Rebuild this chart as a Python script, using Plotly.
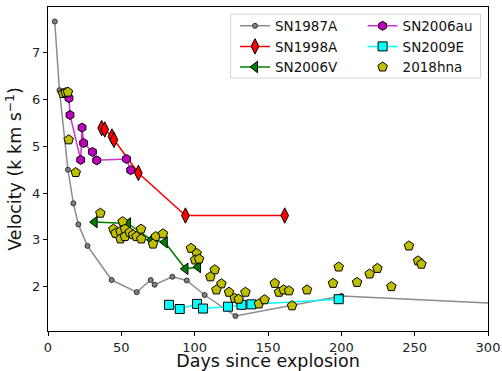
import plotly.graph_objects as go

# ---- data (days since explosion, velocity in 10^3 km/s) ----
sn1987a_t = [4.6, 7.8, 13.6, 17.3, 20.7, 26.9, 43.4, 60.5, 70.0, 72.7, 84.8, 94.6, 106.8, 127.8, 200.0, 400.0]
sn1987a_v = [7.67, 6.20, 4.50, 3.78, 3.33, 2.87, 2.14, 1.88, 2.14, 2.04, 2.21, 2.13, 1.82, 1.37, 1.80, 1.50]

sn1998a_t = [36.6, 38.7, 43.6, 45.0, 61.6, 93.7, 161.4]
sn1998a_v = [5.39, 5.36, 5.21, 5.14, 4.43, 3.52, 3.52]

sn2006v_t = [31.8, 54.5, 70.5, 79.6, 93.7, 102.3]
sn2006v_v = [3.38, 3.35, 3.00, 2.95, 2.38, 2.42]

sn2006au_t = [14.3, 15.0, 22.3, 23.2, 24.3, 30.3, 33.2, 53.5, 56.4]
sn2006au_v = [6.03, 5.67, 4.71, 5.40, 5.07, 4.88, 4.70, 4.73, 4.49]

sn2009e_t = [82.5, 89.8, 101.6, 105.7, 122.7, 131.9, 138.7, 198.2]
sn2009e_v = [1.61, 1.52, 1.63, 1.53, 1.57, 1.61, 1.62, 1.73]

sn2018hna_t = [10.2, 12.0, 13.6, 14.1, 18.9, 35.7, 44.6, 46.0, 49.4, 50.9, 52.5, 49.4, 52.5,
               55.7, 58.0, 60.3, 63.4, 63.6, 73.4, 78.4, 71.6, 97.5, 101.4, 100.3, 103.0,
               113.7, 110.7, 118.2, 114.8, 123.4, 134.6, 127.3, 130.0, 143.8, 147.7, 154.6,
               157.5, 160.7, 164.3, 166.4, 176.6, 194.3, 198.2, 210.7, 219.3, 224.6, 234.1,
               246.1, 252.3, 254.6]
sn2018hna_v = [6.13, 6.15, 6.16, 5.14, 4.44, 3.57, 3.23, 3.14, 3.18, 3.39, 3.23, 3.02, 3.07,
               3.16, 3.11, 3.07, 3.23, 3.02, 3.07, 3.13, 2.91, 2.82, 2.71, 2.57, 2.59,
               2.36, 2.21, 2.06, 1.93, 1.88, 1.88, 1.75, 1.73, 1.63, 1.72, 2.07,
               1.88, 1.93, 1.91, 1.59, 1.93, 2.07, 2.42, 2.09, 2.27, 2.39, 2.00,
               2.87, 2.55, 2.48]

x_ticks = [0, 50, 100, 150, 200, 250, 300]
y_ticks = [2, 3, 4, 5, 6, 7]

FONT = "DejaVu Sans"
edge = dict(color="black", width=1)

fig = go.Figure()

fig.add_trace(go.Scatter(
    x=sn1987a_t, y=sn1987a_v, name="SN1987A", mode="lines+markers",
    line=dict(color="#8c8c8c", width=1.5),
    marker=dict(symbol="circle", size=5, color="#808080", line=dict(color="#333333", width=1)),
    legend="legend"))
fig.add_trace(go.Scatter(
    x=sn1998a_t, y=sn1998a_v, name="SN1998A", mode="lines+markers",
    line=dict(color="#ff0000", width=1.5),
    marker=dict(symbol="diamond-tall", size=11, color="#ff0000", line=edge),
    legend="legend"))
fig.add_trace(go.Scatter(
    x=sn2006v_t, y=sn2006v_v, name="SN2006V", mode="lines+markers",
    line=dict(color="#008000", width=1.5),
    marker=dict(symbol="triangle-left", size=10, color="#008000", line=edge),
    legend="legend"))
fig.add_trace(go.Scatter(
    x=sn2006au_t, y=sn2006au_v, name="SN2006au", mode="lines+markers",
    line=dict(color="#cc33cc", width=1.5),
    marker=dict(symbol="hexagon", size=9, color="#bf00bf", line=edge),
    legend="legend2"))
fig.add_trace(go.Scatter(
    x=sn2009e_t, y=sn2009e_v, name="SN2009E", mode="lines+markers",
    line=dict(color="#00ffff", width=1.5),
    marker=dict(symbol="square", size=9, color="#00ffff", line=edge),
    legend="legend2"))
fig.add_trace(go.Scatter(
    x=sn2018hna_t, y=sn2018hna_v, name="2018hna", mode="markers",
    marker=dict(symbol="pentagon", size=10, color="#bfbf00", line=edge),
    legend="legend2"))

axis_common = dict(
    showline=True, linecolor="black", linewidth=1, mirror=True,
    ticks="outside", ticklen=4, tickwidth=1, tickcolor="black",
    showgrid=False, zeroline=False,
    tickfont=dict(family=FONT, size=13, color="#222222"),
)

fig.update_xaxes(range=[0, 300], tickvals=x_ticks,
                 title=dict(text="Days since explosion", font=dict(family=FONT, size=17.5, color="#111111"), standoff=5),
                 **axis_common)
fig.update_yaxes(range=[1.05, 7.98], tickvals=y_ticks,
                 title=dict(text="Velocity (k km s<sup>−1</sup>)", font=dict(family=FONT, size=17.5, color="#111111"), standoff=5),
                 **axis_common)

leg_common = dict(
    orientation="v", yanchor="top", xanchor="left",
    bgcolor="rgba(0,0,0,0)", borderwidth=0,
    font=dict(family=FONT, size=13.5, color="#111111"),
    tracegroupgap=0, itemwidth=30,
)

fig.update_layout(
    width=502, height=371,
    margin=dict(l=48, r=14, t=7, b=40, autoexpand=False),
    paper_bgcolor="white", plot_bgcolor="white",
    font=dict(family=FONT, color="#111111"),
    showlegend=True,
    legend=dict(x=0.425, y=0.989, **leg_common),
    legend2=dict(x=0.715, y=0.989, **leg_common),
    shapes=[dict(type="rect", xref="paper", yref="paper",
                 x0=0.415, x1=0.983, y0=0.781, y1=0.978,
                 line=dict(color="#d6d6d6", width=1),
                 fillcolor="rgba(255,255,255,0.8)", layer="above")],
)

fig.write_html("out.html")
